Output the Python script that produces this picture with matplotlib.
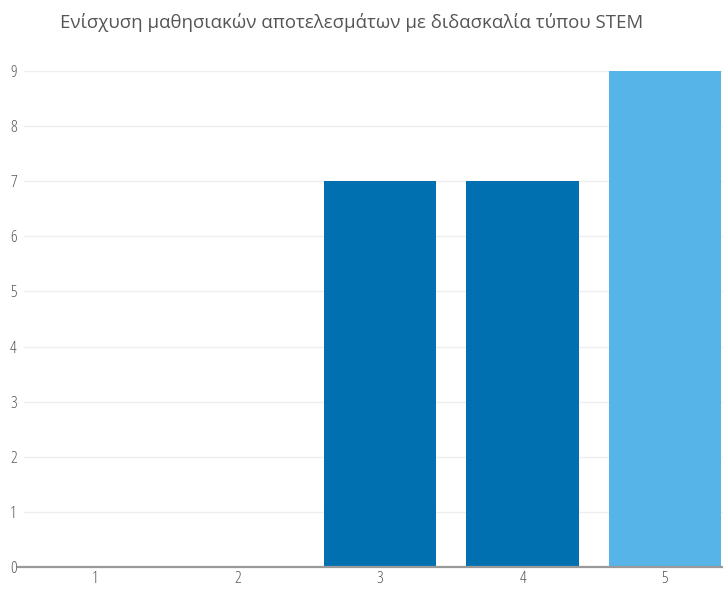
import matplotlib
matplotlib.use("Agg")
import matplotlib.pyplot as plt

title = "Ενίσχυση μαθησιακών αποτελεσμάτων με διδασκαλία τύπου STEM"
categories = ["1", "2", "3", "4", "5"]
counts = [0, 0, 7, 7, 9]
bar_colors = ["#0070b0", "#0070b0", "#0070b0", "#0070b0", "#56b4e8"]
y_ticks = list(range(0, 10))

plt.rcParams["font.family"] = ["Open Sans", "DejaVu Sans"]

fig = plt.figure(figsize=(7.23, 5.90), dpi=100)
ax = fig.add_axes([23.75 / 723, 23 / 590, 712.5 / 723, 496 / 590])

x = list(range(1, len(categories) + 1))
ax.bar(x, counts, width=0.79, color=bar_colors, zorder=3)

ax.set_xlim(0.5, 5.5)
ax.set_ylim(0, 9)
ax.set_xticks(x)
ax.set_xticklabels(categories)
ax.set_yticks(y_ticks)

ax.grid(axis="y", color="#eeeeee", linewidth=1.0, zorder=0)
ax.grid(axis="x", visible=False)
for side in ["top", "right", "left", "bottom"]:
    ax.spines[side].set_visible(False)

# baseline at zero, slightly extending past the left edge
ax.plot([-0.008, 1.0], [0, 0], transform=ax.get_yaxis_transform(),
        color="#999999", linewidth=1.6, clip_on=False, zorder=4)

ax.tick_params(axis="both", length=0, colors="#555555", labelsize=12)
for lbl in ax.get_xticklabels() + ax.get_yticklabels():
    lbl.set_fontstretch("condensed")
ax.tick_params(axis="y", pad=5)
ax.tick_params(axis="x", pad=3)

fig.text(352 / 723, 1 - 22 / 590, title, ha="center", va="center",
         fontsize=13.4, color="#555555")

fig.savefig("out.png", dpi=100, facecolor="white")
